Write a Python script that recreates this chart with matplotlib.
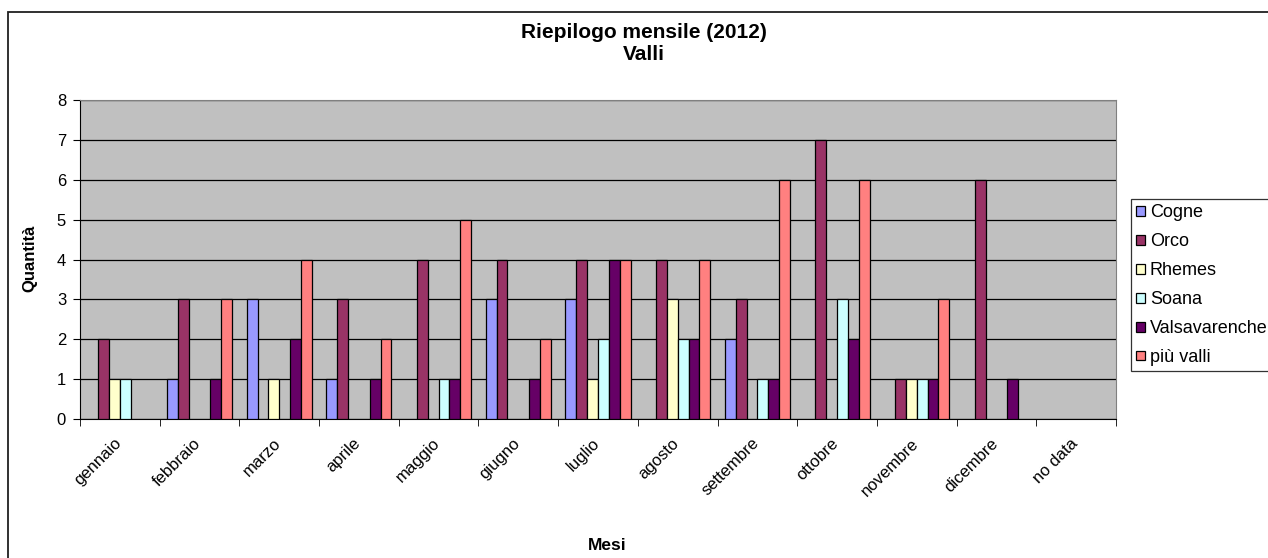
import numpy as np
import matplotlib.pyplot as plt
import matplotlib.transforms as mtransforms
from matplotlib.patches import Rectangle

plt.rcParams['font.family'] = ['Liberation Sans', 'DejaVu Sans']

mesi = ['gennaio', 'febbraio', 'marzo', 'aprile', 'maggio', 'giugno', 'luglio',
        'agosto', 'settembre', 'ottobre', 'novembre', 'dicembre', 'no data']

valli = ['Cogne', 'Orco', 'Rhemes', 'Soana', 'Valsavarenche', 'più valli']
colori = ['#9999FF', '#993366', '#FFFFCC', '#CCFFFF', '#660066', '#FF8080']

cogne = [0, 1, 3, 1, 0, 3, 3, 0, 2, 0, 0, 0, 0]
orco = [2, 3, 0, 3, 4, 4, 4, 4, 3, 7, 1, 6, 0]
rhemes = [1, 0, 1, 0, 0, 0, 1, 3, 0, 0, 1, 0, 0]
soana = [1, 0, 0, 0, 1, 0, 2, 2, 1, 3, 1, 0, 0]
valsavarenche = [0, 1, 2, 1, 1, 1, 4, 2, 1, 2, 1, 1, 0]
piu_valli = [0, 3, 4, 2, 5, 2, 4, 4, 6, 6, 3, 0, 0]

serie = [cogne, orco, rhemes, soana, valsavarenche, piu_valli]

W, H = 1268, 558
fig = plt.figure(figsize=(W / 100, H / 100), dpi=100)
# cornice dell'area del grafico (esce dal bordo destro e in basso)
fig.patches.append(Rectangle((8 / W, -0.1), 1.2, 1.1 - 12 / H, transform=fig.transFigure,
                             fill=False, edgecolor='#202020', linewidth=1.3))

ax = fig.add_axes([80 / W, 1 - 419 / H, (1116 - 80) / W, (419 - 100) / H])
ax.set_facecolor('#C0C0C0')

x = np.arange(len(mesi))
w = 0.136
for i, (nome, vals, col) in enumerate(zip(valli, serie, colori)):
    # le barre a zero non si disegnano
    vals = np.array(vals, dtype=float)
    vis = vals > 0
    ax.bar((x + (i - 2.5) * w)[vis], vals[vis], w, color=col, edgecolor='black',
           linewidth=0.9, zorder=3)
    ax.bar([np.nan], [np.nan], w, color=col, edgecolor='black', linewidth=0.9, label=nome)

ax.set_xlim(-0.5, len(mesi) - 0.5)
ax.set_ylim(0, 8)
ax.set_yticks(range(9))
ax.yaxis.grid(True, color='black', linewidth=0.9, zorder=1)
ax.set_axisbelow(True)

ax.set_xticks(x)
ax.set_xticklabels(mesi, rotation=45, ha='right', rotation_mode='anchor', fontsize=12)
ax.tick_params(axis='x', length=0, pad=12)
sposta = mtransforms.ScaledTranslation(-6 / 100, 0, fig.dpi_scale_trans)
for lab in ax.get_xticklabels():
    lab.set_transform(lab.get_transform() + sposta)
ax.set_xticks(np.arange(-0.5, len(mesi), 1), minor=True)
ax.tick_params(axis='x', which='minor', length=5, direction='out', color='black')
ax.tick_params(axis='y', length=5, labelsize=12, color='black', pad=5)

for s in ['top', 'right']:
    ax.spines[s].set_color('#808080')
for s in ['left', 'bottom']:
    ax.spines[s].set_color('black')

fig.text(30 / W, 1 - 258 / H, 'Quantità', rotation=90, ha='center', va='center',
         fontsize=12, fontweight='bold')
fig.text(607 / W, 1 - 546 / H, 'Mesi', ha='center', va='center', fontsize=12.5, fontweight='bold')
fig.text(644 / W, 1 - 32 / H, 'Riepilogo mensile (2012)', ha='center', va='center',
         fontsize=15, fontweight='bold')
fig.text(644 / W, 1 - 55 / H, 'Valli', ha='center', va='center', fontsize=15, fontweight='bold')

leg = fig.legend(*ax.get_legend_handles_labels(), loc='upper left',
                 bbox_to_anchor=(1131 / W, 1 - 199 / H), frameon=True,
                 fancybox=False, edgecolor='black', fontsize=13, handlelength=0.45,
                 handleheight=0.45, handletextpad=0.3, labelspacing=0.66,
                 borderpad=0.3, borderaxespad=0)
leg.get_frame().set_linewidth(0.9)

fig.savefig('out.png', dpi=100)
